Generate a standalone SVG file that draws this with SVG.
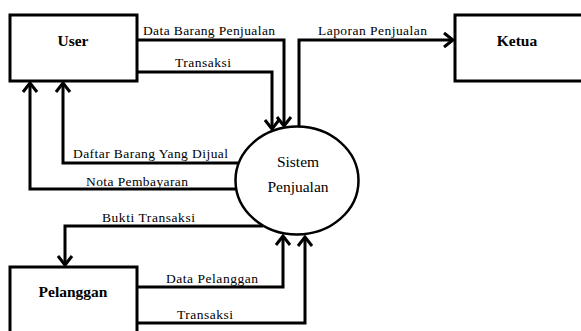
<svg xmlns="http://www.w3.org/2000/svg" width="581" height="331" viewBox="0 0 581 331">
<style>
.box{fill:#fff;stroke:#000;stroke-width:3}
.proc{fill:#fff;stroke:#000;stroke-width:2.5}
.ttl{font-weight:bold;font-size:15.5px;fill:#000}
.pt{font-size:15.5px;fill:#000}
.lbl{font-size:13.5px;fill:#000}
.ln{fill:none;stroke:#000;stroke-width:3;marker-end:url(#ah)}
</style>
<defs>
<marker id="ah" markerUnits="userSpaceOnUse" markerWidth="20" markerHeight="20" viewBox="-12 -10 14 20" refX="0" refY="0" orient="auto">
<path d="M-9,-7 L0,0 L-9,7" fill="none" stroke="#000" stroke-width="3"/>
</marker>
</defs>
<rect width="581" height="331" fill="#fff"/>
<g font-family="Liberation Serif, DejaVu Serif, serif">
<g id="connectors">
<path class="ln" d="M137,40 H284 V126"/>
<path class="ln" d="M137,72 H272 V129"/>
<path class="ln" d="M299,127 V40 H453"/>
<path class="ln" d="M238,163 H63 V83"/>
<path class="ln" d="M236,189 H30 V83"/>
<path class="ln" d="M263,226 H65 V265"/>
<path class="ln" d="M137,287 H283 V236"/>
<path class="ln" d="M137,323 H305 V237"/>
<text class="lbl" x="143" y="35" textLength="132">Data Barang Penjualan</text>
<text class="lbl" x="175" y="67" textLength="56">Transaksi</text>
<text class="lbl" x="318" y="35" textLength="109">Laporan Penjualan</text>
<text class="lbl" x="73" y="158" textLength="155">Daftar Barang Yang Dijual</text>
<text class="lbl" x="86" y="186" textLength="102">Nota Pembayaran</text>
<text class="lbl" x="102" y="222" textLength="93">Bukti Transaksi</text>
<text class="lbl" x="166" y="283" textLength="92">Data Pelanggan</text>
<text class="lbl" x="177" y="319" textLength="56">Transaksi</text>
</g>
<g id="user">
<rect class="box" x="10" y="15" width="127" height="66"/>
<text class="ttl" x="73" y="46" text-anchor="middle">User</text>
</g>
<g id="ketua">
<rect class="box" x="455" y="15" width="128" height="66"/>
<text class="ttl" x="517" y="46" text-anchor="middle">Ketua</text>
</g>
<g id="pelanggan">
<rect class="box" x="10" y="267" width="127" height="70"/>
<text class="ttl" x="73" y="297" text-anchor="middle">Pelanggan</text>
</g>
<g id="sistem">
<ellipse class="proc" cx="297" cy="180.5" rx="61.5" ry="54"/>
<text class="pt" x="298" y="167" text-anchor="middle">Sistem</text>
<text class="pt" x="298" y="192" text-anchor="middle">Penjualan</text>
</g>
</g>
</svg>
